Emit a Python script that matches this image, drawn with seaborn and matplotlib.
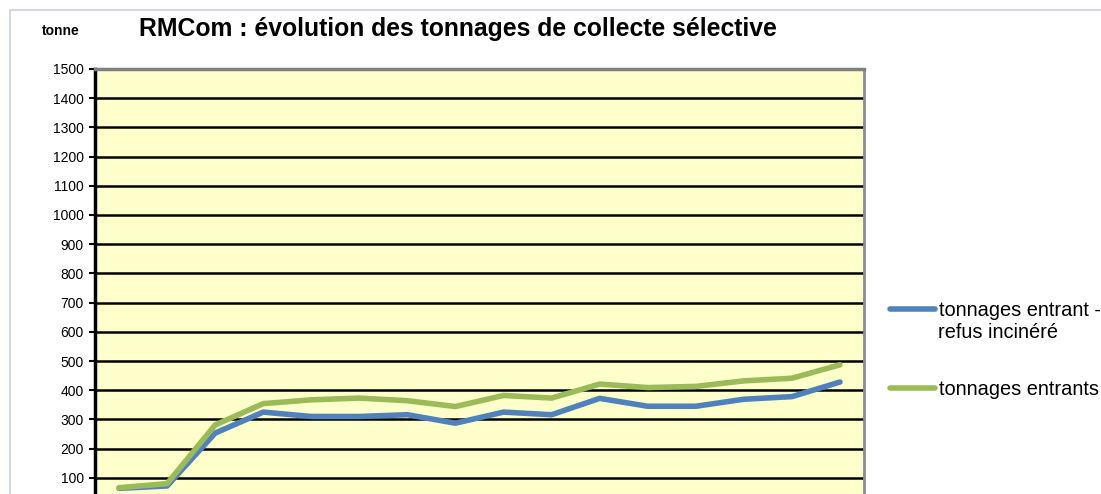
import numpy as np
import pandas as pd
import matplotlib
matplotlib.use('Agg')
import matplotlib.pyplot as plt
import seaborn as sns
from matplotlib.patches import Rectangle

# Values (x labels are cut off in the source image)
periodes = [str(a) for a in range(1995, 2011)]
entrant_moins_refus = [64, 72, 253, 325, 310, 310, 316, 287, 325, 316, 372, 345, 345, 369, 378, 428]
entrants = [66, 80, 281, 354, 367, 373, 364, 344, 382, 373, 421, 409, 413, 432, 441, 487]

label_net = 'tonnages entrant -\nrefus incinéré'
label_brut = 'tonnages entrants'
couleurs = {label_net: '#4f81bd', label_brut: '#9bbb59'}

sns.set_theme(style='white')
plt.rcParams['font.family'] = ['Liberation Sans', 'DejaVu Sans']
plt.rcParams['text.color'] = 'black'
plt.rcParams['ytick.labelcolor'] = 'black'

df = pd.DataFrame({
    'periode': periodes * 2,
    'tonne': entrant_moins_refus + entrants,
    'serie': [label_net] * len(periodes) + [label_brut] * len(periodes),
})

fig = plt.figure(figsize=(11.01, 4.94), dpi=100)
# plot area runs off the bottom of the image, like the cropped source
ax = fig.add_axes([95 / 1101, 1 - 507 / 494, 769 / 1101, 438 / 494])

# chart border
fig.patches.append(Rectangle((10 / 1101, -0.1), 1.2, 1 - 10 / 494 + 0.1,
                             transform=fig.transFigure, fill=False,
                             edgecolor='#c9d3e3', linewidth=1.2))

sns.lineplot(data=df, x='periode', y='tonne', hue='serie', palette=couleurs,
             linewidth=4, solid_capstyle='round', sort=False, ax=ax, legend=False)

ax.set_facecolor('#ffffcc')
ax.set_xlim(-0.5, len(periodes) - 0.5)
ax.set_ylim(0, 1500)
ax.set_yticks(np.arange(100, 1501, 100))
ax.yaxis.grid(True, color='black', linewidth=1.8)
ax.set_axisbelow(True)
ax.set_xlabel('')
ax.set_ylabel('')
ax.tick_params(axis='y', left=True, length=4, width=1.5, color='black',
               labelsize=10, pad=4)
ax.tick_params(axis='x', bottom=False, labelbottom=False)

ax.spines['left'].set_color('black')
ax.spines['left'].set_linewidth(2.5)
ax.spines['top'].set_color('#808080')
ax.spines['top'].set_linewidth(2.5)
ax.spines['right'].set_color('#8c8c8c')
ax.spines['right'].set_linewidth(2)
ax.spines['bottom'].set_visible(False)

fig.text(458 / 1101, 1 - 29 / 494, 'RMCom : évolution des tonnages de collecte sélective',
         ha='center', va='center', fontsize=17.8, fontweight='bold')
fig.text(61 / 1101, 1 - 31 / 494, 'tonne', ha='center', va='center',
         fontsize=10, fontweight='bold')

# legend: Excel puts the line beside the first line of a wrapped label
lab1, lab2 = label_net.split('\n')
h_net = plt.Line2D([], [], color=couleurs[label_net], linewidth=4, solid_capstyle='round')
h_brut = plt.Line2D([], [], color=couleurs[label_brut], linewidth=4, solid_capstyle='round')
for h, lab, y in [(h_net, lab1, 310), (h_brut, label_brut, 389)]:
    fig.legend([h], [lab], loc='center left', bbox_to_anchor=(890 / 1101, 1 - y / 494),
               frameon=False, fontsize=14.4, handlelength=2.25, handletextpad=0.18,
               borderpad=0, borderaxespad=0)
fig.text(938 / 1101, 1 - 333 / 494, lab2, ha='left', va='center', fontsize=14.4)

fig.savefig('out.png', dpi=100)
